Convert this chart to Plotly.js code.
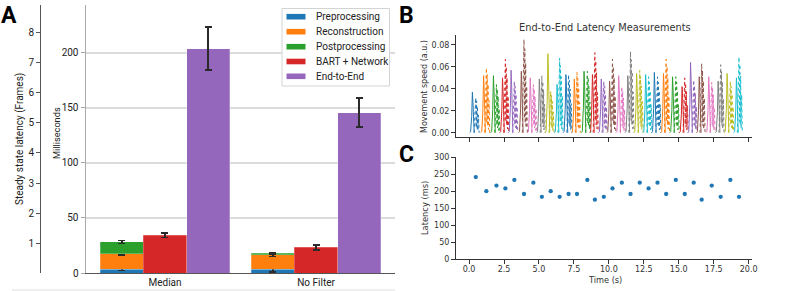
<!DOCTYPE html>
<html><head><meta charset="utf-8">
<script src="https://cdn.plot.ly/plotly-3.0.1.min.js"></script>
<style>html,body{margin:0;padding:0;background:#fff}#chart{width:793px;height:291px}</style>
</head><body><div id="chart"></div>
<script>
// ---------- Panel A data (milliseconds) ----------
const groups = ['Median', 'No Filter'];
const seriesNames = ['Preprocessing', 'Reconstruction', 'Postprocessing', 'BART + Network', 'End-to-End'];
const preprocessing = [3.2, 3.2];
const preprocessingErr = [1.0, 2.3];
const reconstruction = [14.3, 13.2];
const reconstructionErr = [1.2, 1.5];
const postprocessing = [10.7, 1.5];
const postprocessingErr = [1.2, 0.5];
const bartNetwork = [34.2, 23.3];
const bartNetworkErr = [2.1, 2.3];
const endToEnd = [204, 145.7];
const endToEndErr = [19.5, 13.2];
const msTicks = [0, 50, 100, 150, 200];
const frameTicks = [1, 2, 3, 4, 5, 6, 7, 8];
const msPerFrame = 27.27;

// ---------- Panel C data ----------
const eventTime = [0.48, 1.24, 1.96, 2.6, 3.24, 3.93, 4.6, 5.21, 5.84, 6.48, 7.12, 7.72, 8.46, 9.0, 9.64,
  10.26, 10.93, 11.55, 12.21, 12.84, 13.48, 14.1, 14.79, 15.43, 16.07, 16.64, 17.36, 18.0, 18.69, 19.31];
const latencyMs = [241.7, 200, 216.7, 208.3, 233.3, 191.7, 225, 183.3, 200, 183.3, 191.7, 191.7, 233.3, 175, 183.3,
  208.3, 225, 191.7, 225, 208.3, 225, 191.7, 233.3, 191.7, 225, 175, 216.7, 183.3, 233.3, 183.3];

// ---------- Panel B data (peak movement speeds) ----------
const solidPeak = [0.037, 0.052, 0.052, 0.050, 0.057, 0.056, 0.050, 0.049, 0.072, 0.044,
  0.053, 0.049, 0.056, 0.053, 0.049, 0.047, 0.052, 0.052, 0.054, 0.053,
  0.055, 0.054, 0.051, 0.042, 0.064, 0.051, 0.051, 0.047, 0.054, 0.050];
const dottedPeak = [0.032, 0.059, 0.044, 0.067, 0.047, 0.085, 0.044, 0.052, 0.038, 0.068,
  0.053, 0.055, 0.056, 0.073, 0.047, 0.067, 0.042, 0.074, 0.057, 0.051,
  0.051, 0.067, 0.051, 0.050, 0.048, 0.063, 0.046, 0.062, 0.047, 0.069];
// spike outline: time offsets (s) and share of the peak
const solidShapeDt = [-0.2, -0.13, -0.05, 0, 0.04, 0.09, 0.13];
const solidShapeRel = [0, 0.02, 0.4, 1, 0.75, 0.2, 0];
const dottedShapeDt = [-0.12, -0.05, 0, 0.03, 0.06, 0.09, 0.12, 0.15, 0.19, 0.24];
const dottedShapeRel = [0, 0.5, 1, 0.15, 0.9, 0.1, 0.75, 0.05, 0.5, 0];

const tab10 = ['#1f77b4', '#ff7f0e', '#2ca02c', '#d62728', '#9467bd', '#8c564b', '#e377c2', '#7f7f7f', '#bcbd22', '#17becf'];
const timeTicks = [0, 2.5, 5, 7.5, 10, 12.5, 15, 17.5, 20];
const timeTickText = ['0.0', '2.5', '5.0', '7.5', '10.0', '12.5', '15.0', '17.5', '20.0'];
const speedTicks = [0, 0.02, 0.04, 0.06, 0.08];
const latencyTicks = [0, 50, 100, 150, 200, 250, 300];

// ---------- layout helpers ----------
const W = 793, H = 291;
const px = v => v / W, py = v => 1 - v / H;
const barW = 0.285;
const gi = groups.map((g, i) => i);
const fontA = 'Roboto, "Noto Sans", sans-serif';
const fontB = '"DejaVu Sans", sans-serif';
const errStyle = (arr) => ({type: 'data', array: arr, visible: true, color: '#2a2a2a', thickness: 1.5, width: 3.5});
const edge = {color: 'rgba(255,255,255,0.3)', width: 0.8};

const traces = [];
function barTrace(name, vals, err, off, color) {
  traces.push({type: 'bar', name, x: gi.map(i => i + off), y: vals, width: barW, showlegend: false,
    marker: {color, line: edge}, error_y: errStyle(err), xaxis: 'x', yaxis: 'y', hoverinfo: 'name+y'});
}
barTrace(seriesNames[0], preprocessing, preprocessingErr, -barW, tab10[0]);
barTrace(seriesNames[1], reconstruction, reconstructionErr, -barW, tab10[1]);
barTrace(seriesNames[2], postprocessing, postprocessingErr, -barW, tab10[2]);
barTrace(seriesNames[3], bartNetwork, bartNetworkErr, 0, tab10[3]);
barTrace(seriesNames[4], endToEnd, endToEndErr, barW, tab10[4]);
// frames axis holder
traces.push({type: 'scatter', x: [null], y: [null], xaxis: 'x', yaxis: 'y2', showlegend: false, hoverinfo: 'skip'});

// Panel B spikes
eventTime.forEach((t, i) => {
  const c = tab10[i % 10];
  const t0 = t - latencyMs[i] / 1000;
  traces.push({type: 'scatter', mode: 'lines', x: solidShapeDt.map(d => t0 + d), y: solidShapeRel.map(r => r * solidPeak[i]),
    line: {color: c, width: 1}, xaxis: 'x2', yaxis: 'y3', showlegend: false, hoverinfo: 'skip'});
  traces.push({type: 'scatter', mode: 'lines', x: dottedShapeDt.map(d => t + d), y: dottedShapeRel.map(r => r * dottedPeak[i]),
    line: {color: c, width: 1, dash: 'dot'}, xaxis: 'x2', yaxis: 'y3', showlegend: false, hoverinfo: 'skip'});
});

// Panel C
traces.push({type: 'scatter', mode: 'markers', x: eventTime, y: latencyMs, marker: {color: tab10[0], size: 4.3},
  xaxis: 'x3', yaxis: 'y4', showlegend: false});

const axB = {color: '#333', linecolor: '#333', linewidth: 1, ticks: 'outside', ticklen: 3.5, tickwidth: 1, tickcolor: '#333',
  showgrid: false, zeroline: false, automargin: false, fixedrange: true, tickfont: {family: fontB, size: 8, color: '#333'}};

// manual legend (box, swatches, labels)
const legendShapes = [{type: 'rect', xref: 'paper', yref: 'paper', x0: px(282), x1: px(389.5), y0: py(86), y1: py(8.5),
  fillcolor: '#fff', line: {color: '#d4d4d4', width: 1}}];
const legendAnn = [];
const legendRowY = [16.7, 31.7, 46.7, 61.5, 76.3];
seriesNames.forEach((n, i) => {
  legendShapes.push({type: 'rect', xref: 'paper', yref: 'paper', x0: px(286.5), x1: px(305.5),
    y0: py(legendRowY[i] + 2.8), y1: py(legendRowY[i] - 2.8), fillcolor: tab10[i], line: {width: 0}});
  legendAnn.push({text: n, xref: 'paper', yref: 'paper', x: px(314), y: py(legendRowY[i]), xanchor: 'left', yanchor: 'middle',
    showarrow: false, font: {family: fontA, size: 10, color: '#222'}});
});

const letterFont = {family: 'Roboto, sans-serif', size: 23, color: '#000', weight: 900};
const layout = {
  width: W, height: H, margin: {l: 0, r: 0, t: 0, b: 0}, paper_bgcolor: '#fff', plot_bgcolor: 'rgba(0,0,0,0)',
  barmode: 'stack', bargap: 0, showlegend: false,
  font: {family: fontA, size: 10, color: '#222'},
  xaxis: {domain: [px(86), px(395)], range: [-0.523, 1.523], anchor: 'y', tickvals: gi, ticktext: groups,
    showline: true, linecolor: '#555', linewidth: 1.2, ticks: '', showgrid: false, zeroline: false, automargin: false, fixedrange: true,
    tickfont: {family: fontA, size: 10, color: '#222'}},
  yaxis: {domain: [py(273), py(5)], range: [0, 243.6], anchor: 'x', tickvals: msTicks,
    showline: true, linecolor: '#aaa', linewidth: 1.5, ticks: 'outside', ticklen: 4, tickcolor: '#aaa',
    gridcolor: '#dcdcdc', gridwidth: 1.2, zeroline: false, automargin: false, fixedrange: true,
    tickfont: {family: fontA, size: 10, color: '#222'}},
  yaxis2: {overlaying: 'y', anchor: 'free', position: px(40), side: 'left', range: [0, 243.6 / msPerFrame], tickvals: frameTicks,
    showline: true, linecolor: '#555', linewidth: 1.2, ticks: 'outside', ticklen: 4, tickcolor: '#555',
    showgrid: false, zeroline: false, automargin: false, fixedrange: true,
    tickfont: {family: fontA, size: 10, color: '#222'}},
  xaxis2: Object.assign({}, axB, {domain: [px(455.5), px(752)], anchor: 'y3', range: [-0.97, 20.24], tickvals: timeTicks, showticklabels: false, showline: true}),
  yaxis3: Object.assign({}, axB, {domain: [py(137.3), py(35)], anchor: 'x2', range: [-0.0042, 0.0891], tickvals: speedTicks, tickformat: '.2f', showline: true}),
  xaxis3: Object.assign({}, axB, {domain: [px(455.5), px(752)], anchor: 'y4', range: [-0.97, 20.24], tickvals: timeTicks, ticktext: timeTickText,
    showline: true, ticklabelstandoff: -1}),
  yaxis4: Object.assign({}, axB, {domain: [py(259), py(157.3)], anchor: 'x3', range: [0, 300], tickvals: latencyTicks, showline: true}),
  shapes: [
    {type: 'line', xref: 'paper', yref: 'paper', x0: px(12), x1: px(395), y0: py(290), y1: py(290), line: {color: '#e0e0e0', width: 1.2}}
  ].concat(legendShapes),
  annotations: [
    {text: 'End-to-End Latency Measurements', xref: 'paper', yref: 'paper', x: px(605), y: py(28), xanchor: 'center', yanchor: 'middle',
      showarrow: false, font: {family: fontB, size: 9.8, color: '#333'}},
    {text: 'Steady state latency (Frames)', xref: 'paper', yref: 'paper', x: px(20), y: py(139), textangle: -90,
      xanchor: 'center', yanchor: 'middle', showarrow: false, font: {family: fontA, size: 10, color: '#222'}},
    {text: 'Milliseconds', xref: 'paper', yref: 'paper', x: px(57), y: py(133), textangle: -90,
      xanchor: 'center', yanchor: 'middle', showarrow: false, font: {family: fontA, size: 9.2, color: '#222'}},
    {text: 'Movement speed (a.u.)', xref: 'paper', yref: 'paper', x: px(424), y: py(87), textangle: -90,
      xanchor: 'center', yanchor: 'middle', showarrow: false, font: {family: fontB, size: 8, color: '#333'}},
    {text: 'Latency (ms)', xref: 'paper', yref: 'paper', x: px(425), y: py(208), textangle: -90,
      xanchor: 'center', yanchor: 'middle', showarrow: false, font: {family: fontB, size: 8.3, color: '#333'}},
    {text: 'Time (s)', xref: 'paper', yref: 'paper', x: px(605), y: py(279.5),
      xanchor: 'center', yanchor: 'middle', showarrow: false, font: {family: fontB, size: 8.2, color: '#333'}},
    {text: '<b>A</b>', xref: 'paper', yref: 'paper', x: px(-1), y: py(0), xanchor: 'left', yanchor: 'top', showarrow: false, font: letterFont},
    {text: '<b>B</b>', xref: 'paper', yref: 'paper', x: px(397), y: py(0), xanchor: 'left', yanchor: 'top', showarrow: false, font: letterFont},
    {text: '<b>C</b>', xref: 'paper', yref: 'paper', x: px(397), y: py(139), xanchor: 'left', yanchor: 'top', showarrow: false, font: letterFont}
  ].concat(legendAnn)
};

Plotly.newPlot('chart', traces, layout, {staticPlot: true, displayModeBar: false});
</script></body></html>
